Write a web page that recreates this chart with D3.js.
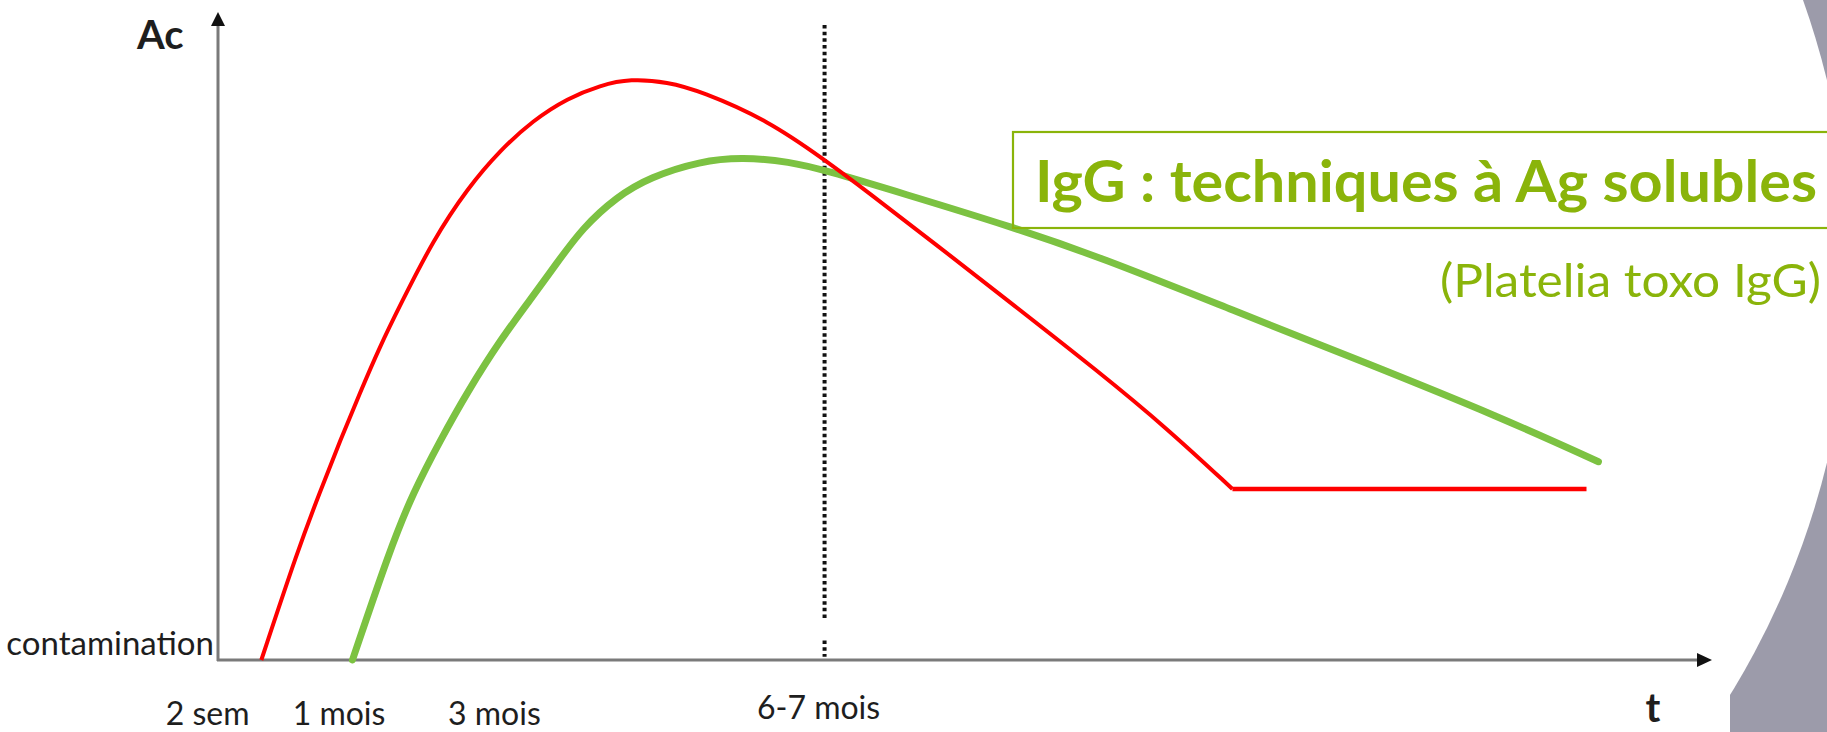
<!DOCTYPE html>
<html>
<head>
<meta charset="utf-8">
<script src="https://cdn.jsdelivr.net/npm/d3@7"></script>
<style>
html, body { margin: 0; padding: 0; background: #fff; overflow: hidden; }
svg { display: block; }
</style>
</head>
<body>
<svg id="chart" width="1827" height="732"></svg>
<script>
// ---------------- data (t and Ac in arbitrary units 0-100) ----------------
const redT  = [2.9, 5.35, 6.8, 8.2, 9.5, 10.8, 12.2, 14.4, 16.7, 18.9, 21.1, 23.4, 25.6, 27.6, 30.1, 32.3, 36.8, 40.6, 43.4, 47.9, 52.8, 59.0, 63.5, 67.9];
const redAc = [0.0, 17.0, 25.8, 34.0, 41.2, 48.2, 54.8, 64.8, 72.8, 78.7, 83.3, 86.7, 88.7, 89.7, 89.2, 87.8, 83.3, 77.2, 72.4, 64.4, 55.6, 44.4, 35.8, 26.4];
const redPlateauT  = [67.9, 91.6];
const redPlateauAc = [26.4, 26.4];

const greenT  = [9.0, 11.5, 13.05, 14.9, 16.7, 18.9, 20.9, 22.6, 24.4, 26.7, 28.9, 32.3, 35.1, 38.3, 40.6, 45.7, 53.2, 59.0, 67.9, 76.9, 85.8, 92.4];
const greenAc = [0.0, 17.0, 25.8, 34.0, 41.4, 49.4, 55.6, 61.0, 66.7, 71.5, 74.5, 77.0, 77.6, 76.9, 75.6, 72.1, 66.8, 62.2, 54.0, 45.8, 37.5, 30.6];

const tickLabels = ["2 sem", "1 mois", "3 mois"];
const tickT      = [-0.7, 8.1, 18.5];
const markerT     = 40.6;
const markerLabel = "6-7 mois";

const yAxisLabel  = "Ac";
const xAxisLabel  = "t";
const originLabel = "contamination";
const titleText    = "IgG : techniques à Ag solubles";
const subtitleText = "(Platelia toxo IgG)";

// ---------------- drawing ----------------
const svg = d3.select("#chart");
const W = 1827, H = 732;

const x = d3.scaleLinear().domain([0, 100]).range([218, 1712]);
const y = d3.scaleLinear().domain([0, 100]).range([660, 12]);

// slide background: grey with a large white disc, chart picture on white
svg.append("rect").attr("width", W).attr("height", H).attr("fill", "#9c9baa");
svg.append("circle").attr("cx", 1041.5).attr("cy", 271.4).attr("r", 808.4).attr("fill", "#fff");
svg.append("rect").attr("x", 0).attr("y", 0).attr("width", 1730).attr("height", H).attr("fill", "#fff");

const textColor = "#1e1e1e";
const green = "#8ab40a";

// dotted marker line (6-7 mois)
svg.append("line")
  .attr("x1", x(markerT)).attr("x2", x(markerT))
  .attr("y1", y(98)).attr("y2", y(6.5))
  .attr("stroke", "#111").attr("stroke-width", 4)
  .attr("stroke-dasharray", "3.5,3.2");
svg.append("line")
  .attr("x1", x(markerT)).attr("x2", x(markerT))
  .attr("y1", y(3.0)).attr("y2", y(0.5))
  .attr("stroke", "#111").attr("stroke-width", 4)
  .attr("stroke-dasharray", "3.5,3.2");

// axes
const axisColor = "#7a7a7a";
svg.append("line")
  .attr("x1", x(0)).attr("x2", x(0))
  .attr("y1", y(0) + 1).attr("y2", y(100) + 10)
  .attr("stroke", axisColor).attr("stroke-width", 3);
svg.append("line")
  .attr("x1", x(0) - 1).attr("x2", x(100) - 12)
  .attr("y1", y(0)).attr("y2", y(0))
  .attr("stroke", axisColor).attr("stroke-width", 3);
// arrow heads
svg.append("path")
  .attr("d", `M${x(0)},${y(100)} L${x(0) - 7},${y(100) + 14} L${x(0) + 7},${y(100) + 14} Z`)
  .attr("fill", "#111");
svg.append("path")
  .attr("d", `M${x(100)},${y(0)} L${x(100) - 15},${y(0) - 7} L${x(100) - 15},${y(0) + 7} Z`)
  .attr("fill", "#111");

// curves
const curveLine = d3.line()
  .x(d => x(d[0])).y(d => y(d[1]))
  .curve(d3.curveBasis);
const straightLine = d3.line()
  .x(d => x(d[0])).y(d => y(d[1]));

const greenPts = greenT.map((t, i) => [t, greenAc[i]]);
const redPts = redT.map((t, i) => [t, redAc[i]]);
const redPlateau = redPlateauT.map((t, i) => [t, redPlateauAc[i]]);

svg.append("path")
  .attr("d", curveLine(greenPts))
  .attr("fill", "none").attr("stroke", "#7cc242")
  .attr("stroke-width", 7).attr("stroke-linecap", "round").attr("stroke-linejoin", "round");

svg.append("path")
  .attr("d", curveLine(redPts))
  .attr("fill", "none").attr("stroke", "#ff0000")
  .attr("stroke-width", 4).attr("stroke-linejoin", "round");
svg.append("path")
  .attr("d", straightLine(redPlateau))
  .attr("fill", "none").attr("stroke", "#ff0000")
  .attr("stroke-width", 4.5).attr("stroke-linecap", "butt");

// axis texts
svg.append("text")
  .attr("x", 137).attr("y", 49)
  .attr("font-family", "Lato").attr("font-weight", 700).attr("font-size", 40)
  .attr("fill", textColor).text(yAxisLabel);

svg.append("text")
  .attr("x", 1653).attr("y", 722)
  .attr("text-anchor", "middle")
  .attr("font-family", "Lato").attr("font-weight", 700).attr("font-size", 40)
  .attr("fill", textColor).text(xAxisLabel);

svg.append("text")
  .attr("x", x(0) - 4).attr("y", y(0) - 5)
  .attr("text-anchor", "end")
  .attr("font-family", "Lato").attr("font-size", 33)
  .attr("fill", textColor).text(originLabel);

svg.selectAll("text.tick")
  .data(tickLabels)
  .enter().append("text")
  .attr("class", "tick")
  .attr("x", (d, i) => x(tickT[i]))
  .attr("y", 725)
  .attr("text-anchor", "middle")
  .attr("font-family", "Lato").attr("font-size", 32)
  .attr("fill", textColor).text(d => d);

svg.append("text")
  .attr("x", x(markerT) - 6).attr("y", 719)
  .attr("text-anchor", "middle")
  .attr("font-family", "Lato").attr("font-size", 32)
  .attr("fill", textColor).text(markerLabel);

// title box
svg.append("rect")
  .attr("x", 1013).attr("y", 132)
  .attr("width", 840).attr("height", 96)
  .attr("fill", "none").attr("stroke", green).attr("stroke-width", 2.2);

svg.append("text")
  .attr("x", 1035).attr("y", 202)
  .attr("font-family", "Lato").attr("font-weight", 700).attr("font-size", 57)
  .attr("textLength", 782).attr("lengthAdjust", "spacingAndGlyphs")
  .attr("fill", green).text(titleText);

svg.append("text")
  .attr("x", 1440).attr("y", 297)
  .attr("font-family", "Lato").attr("font-size", 47)
  .attr("textLength", 381).attr("lengthAdjust", "spacingAndGlyphs")
  .attr("fill", green).text(subtitleText);
</script>
</body>
</html>
